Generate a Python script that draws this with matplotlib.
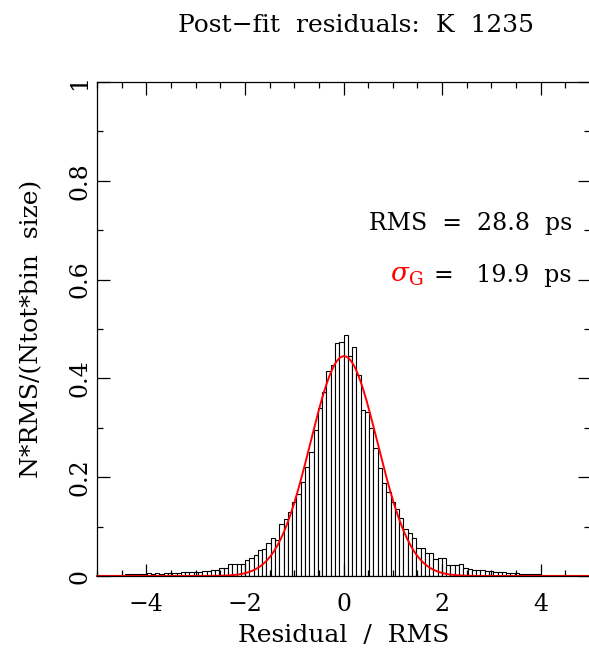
"""Post-fit residual histogram for K 1235."""

from __future__ import annotations

import matplotlib

matplotlib.use("Agg")

import matplotlib.pyplot as plt
import numpy as np
from matplotlib.ticker import MultipleLocator

# bin width in units of RMS (2.5 ps / 28.8 ps)
BIN_WIDTH = 0.0868
FIRST_BIN = -58

# normalised counts, left to right, one per bin starting at FIRST_BIN * BIN_WIDTH
heights = [
    0.002, 0.002, 0.003, 0.002, 0.003, 0.003, 0.003, 0.004,
    0.004, 0.004, 0.005, 0.005, 0.006, 0.005, 0.006, 0.005,
    0.006, 0.006, 0.006, 0.007, 0.008, 0.008, 0.008, 0.008,
    0.009, 0.010, 0.010, 0.012, 0.012, 0.016, 0.016, 0.024,
    0.024, 0.024, 0.024, 0.032, 0.037, 0.043, 0.053, 0.054,
    0.067, 0.077, 0.073, 0.105, 0.115, 0.130, 0.150, 0.167,
    0.191, 0.221, 0.252, 0.296, 0.340, 0.373, 0.414, 0.427,
    0.472, 0.474,
    # right of zero
    0.488, 0.445, 0.464, 0.407, 0.336, 0.331, 0.300, 0.259,
    0.218, 0.189, 0.171, 0.150, 0.135, 0.117, 0.095, 0.087,
    0.077, 0.057, 0.057, 0.047, 0.047, 0.034, 0.037, 0.036,
    0.023, 0.023, 0.023, 0.024, 0.016, 0.015, 0.013, 0.012,
    0.012, 0.011, 0.010, 0.009, 0.009, 0.008, 0.007, 0.006,
    0.006, 0.005, 0.005, 0.005, 0.004, 0.004, 0.003, 0.003,
    0.003, 0.002, 0.002, 0.002, 0.002, 0.002, 0.002, 0.002,
    0.002, 0.002,
]

# gaussian fit parameters (amplitude, mean, sigma in RMS units)
fit_amp = 0.445
fit_mean = 0.01
fit_sigma = 0.68

title = "Post\u2212fit  residuals:  K  1235"
rms_text = "RMS  =  28.8  ps"
sigma_text = "=   19.9  ps"
ytick_vals = [0, 0.2, 0.4, 0.6, 0.8, 1.0]
ytick_labels = ["0", "0.2", "0.4", "0.6", "0.8", "1"]

W, H = 589, 656
FS = 17


def _px(x: float, y: float) -> tuple[float, float]:
    return x / W, 1.0 - y / H


def main() -> None:
    plt.rcParams["font.family"] = ["DejaVu Serif"]
    plt.rcParams["mathtext.fontset"] = "dejavuserif"

    fig = plt.figure(figsize=(W / 100, H / 100), dpi=100)
    ax = fig.add_axes((97 / W, 80 / H, 493 / W, 494 / H))

    n = len(heights)
    left_edges = (FIRST_BIN + np.arange(n)) * BIN_WIDTH
    ax.bar(left_edges, heights, width=BIN_WIDTH, align="edge",
           facecolor="white", edgecolor="black", linewidth=0.8)

    xg = np.linspace(-5, 5, 600)
    yg = fit_amp * np.exp(-0.5 * ((xg - fit_mean) / fit_sigma) ** 2)
    ax.plot(xg, yg, color="#ff0000", linewidth=1.4, clip_on=False)

    ax.set_xlim(-5, 5)
    ax.set_ylim(0, 1)
    ax.xaxis.set_major_locator(MultipleLocator(2))
    ax.xaxis.set_minor_locator(MultipleLocator(0.5))
    ax.yaxis.set_minor_locator(MultipleLocator(0.1))
    ax.set_yticks(ytick_vals, ytick_labels)
    ax.tick_params(which="both", direction="in", top=True, right=True,
                   labelsize=FS, width=0.9)
    ax.tick_params(axis="x", pad=12)
    ax.tick_params(axis="y", pad=4)
    ax.tick_params(which="major", length=9)
    ax.tick_params(which="minor", length=4.5)
    for lab in ax.get_yticklabels():
        lab.set_rotation(90)
        lab.set_verticalalignment("center")
    for sp in ax.spines.values():
        sp.set_linewidth(0.9)

    ax.set_xlabel("Residual  /  RMS", fontsize=FS + 1, va="center")
    ax.xaxis.set_label_coords(0.5, (576 - 636) / 494)
    ax.set_ylabel("N*RMS/(Ntot*bin  size)", fontsize=FS + 1, va="center")
    ax.yaxis.set_label_coords((32 - 97) / 493, 0.5)

    fig.text(*_px(356, 26), title, fontsize=FS + 1, ha="center", va="center")
    fig.text(*_px(572, 230), rms_text, fontsize=FS, ha="right", va="baseline")
    t = fig.text(*_px(572, 282), sigma_text, fontsize=FS, ha="right", va="baseline")
    fig.canvas.draw()
    bb = t.get_window_extent()
    fig.text((bb.x0 - 11) / W, 1.0 - 282 / H, r"$\sigma_{\rm G}$", fontsize=FS + 2,
             color="#ff0000", ha="right", va="baseline")

    fig.savefig("out.png", dpi=100)


if __name__ == "__main__":
    main()
